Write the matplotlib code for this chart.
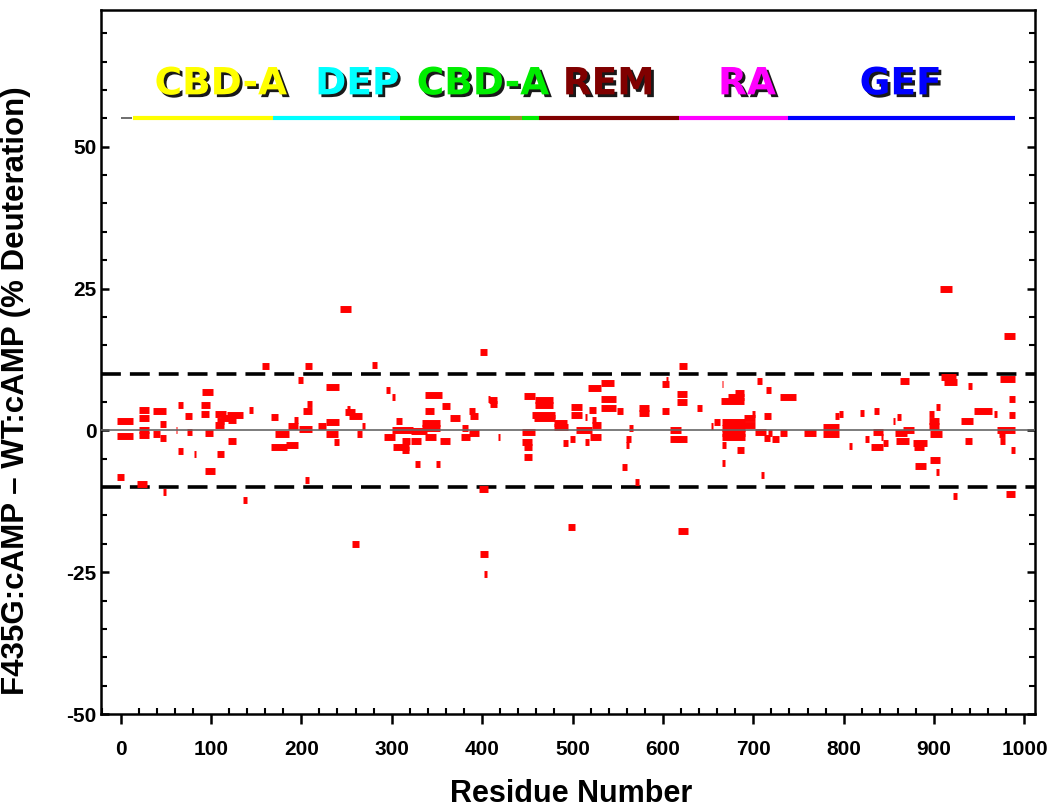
import matplotlib
matplotlib.use('Agg')
import matplotlib.pyplot as plt
import matplotlib.patheffects as pe
from matplotlib.ticker import MultipleLocator

# peptide start / end residue and deuteration difference (%)
pep_start = [-4, -4, -4, 20, 20, 20, 20, 18, 36, 44, 36, 44, 47, 61, 64, 64, 71, 74, 81, 90,
             89, 89, 93, 93, 104, 104, 107, 111, 118, 119, 107, 119, 142, 136, 157, 166, 166, 171, 185, 192,
             196, 183, 243, 256,
             204, 197, 227, 206, 202, 197, 204, 218, 227, 227, 236, 248, 253, 251, 262, 267, 278, 294, 300, 305,
             291, 300, 301, 311, 311, 321, 326, 321, 333, 333, 337, 337, 337, 349, 353, 356, 365, 378, 377, 385,
             385, 387, 398, 396, 407, 398, 402,
             408, 409, 418, 446, 458, 458, 455, 457, 479, 480, 444, 444, 446, 446, 489, 497, 498, 498, 504, 514,
             514, 518, 521, 521, 519, 517, 531, 531, 531, 549, 562, 562, 559, 559, 555, 569, 573, 573, 599, 599,
             603, 608, 608, 495, 617,
             618, 616, 616, 614, 638, 653, 656, 665, 664, 672, 680, 665, 665, 665, 665, 690, 690, 698, 665, 665,
             682, 704, 714, 712, 702, 712, 716, 721, 708, 729, 729, 756, 777, 777, 790, 795, 806, 818, 824,
             833, 832, 830, 843, 841, 854, 859, 862, 857, 858, 866, 877, 878, 879, 894, 894, 896, 894, 902, 896,
             902, 908, 911, 921, 930, 934, 937, 944, 966, 970, 972, 973, 973, 983, 983, 985, 979, 907, 977]
pep_end = [14, 14, 4, 31, 31, 31, 31, 29, 50, 50, 44, 50, 50, 63, 69, 69, 79, 79, 84, 102,
           99, 98, 102, 104, 117, 114, 114, 122, 135, 128, 115, 128, 146, 140, 164, 174, 184, 186, 196, 196,
           199, 196, 255, 264,
           212, 202, 242, 212, 212, 212, 209, 227, 242, 241, 242, 259, 267, 254, 267, 270, 284, 298, 304, 311,
           304, 323, 319, 320, 319, 332, 331, 339, 353, 353, 356, 347, 349, 353, 365, 365, 375, 384, 387, 396,
           392, 395, 405, 407, 409, 406, 405,
           416, 416, 420, 458, 478, 478, 481, 481, 494, 495, 458, 455, 455, 455, 495, 503, 511, 511, 521, 518,
           516, 526, 526, 531, 531, 531, 546, 548, 548, 556, 563, 567, 565, 562, 560, 573, 585, 585, 607, 607,
           606, 620, 620, 503, 628,
           627, 627, 627, 627, 643, 655, 663, 667, 690, 690, 690, 691, 691, 691, 691, 702, 702, 702, 670, 669,
           690, 710, 720, 720, 714, 719, 721, 728, 712, 747, 737, 769, 795, 795, 795, 799, 809, 822, 828,
           839, 844, 843, 849, 844, 857, 863, 872, 870, 872, 878, 892, 889, 891, 905, 905, 909, 900, 906, 906,
           905, 924, 925, 925, 943, 942, 942, 964, 970, 990, 978, 990, 978, 990, 990, 990, 990, 920, 990]
pep_diff = [1.6, -1.0, -8.2, 3.6, 2.1, 0.1, -0.9, -9.5, 3.4, 1.1, -0.6, -1.3, -10.9, 0.0, 4.4, -3.7, 2.6, -0.3, -4.2, 6.7,
            4.5, 2.9, -0.4, -7.1, 2.9, 0.9, 1.6, 2.2, 2.8, 1.9, -4.2, -1.8, 3.6, -12.2, 11.4, 2.4, -2.9, -0.6, 0.7, 1.9,
            8.9, -2.5, 21.4, -20.1,
            11.3, 8.9, 7.6, 4.7, 3.5, 0.2, -8.8, 0.7, 1.5, -0.7, -2.1, 3.2, 2.5, 3.8, -0.7, 0.8, 11.6, 7.1, 5.9, 1.6,
            -1.1, 0.1, -2.9, -1.8, -3.4, -1.8, -5.9, -0.1, 1.3, 0.5, 6.2, 3.4, -1.2, -6.0, -1.9, 4.3, 2.2, 0.5, -1.1, -0.5,
            3.5, 2.6, 13.9, -10.4, 5.6, -21.8, -25.4,
            5.4, 4.6, -1.2, 6.0, 5.4, 4.5, 2.8, 2.1, 1.3, 0.6, -0.3, -2.1, -2.9, -4.7, -2.2, -1.5, 4.1, 2.8, 0.1, -2.1,
            2.4, 3.6, 1.8, 0.9, -1.1, 7.4, 8.4, 5.6, 4.0, 3.5, 1.9, 0.5, -1.6, -2.5, -6.4, -9.1, 4.0, 3.0, 3.5, 8.1,
            8.8, 0.1, -1.5, -17.0, -17.8,
            11.4, 6.4, 5.0, -1.6, 3.9, 0.7, 1.5, 8.1, 5.1, 5.9, 6.6, 1.5, 0.5, -0.5, -1.2, 2.1, 0.9, 2.9, -2.5, -5.7,
            -3.5, 8.7, 7.1, 2.6, -0.3, -1.3, -0.5, -1.5, -7.8, 5.8, -0.4, -0.5, 0.6, -0.6, 2.6, 2.9, -2.8, 3.1, -1.6,
            3.4, -0.3, -2.9, -2.2, -1.2, 1.6, 2.4, 8.7, -0.5, -1.8, 0.1, -2.2, -2.9, -6.2, 1.6, 0.7, -0.7, 2.9, 4.1, -5.2,
            -7.4, 9.4, 8.5, -11.6, 1.6, -1.8, 7.8, 3.4, 2.9, 0.1, -0.6, 9.1, -1.9, 5.5, 2.8, -3.4, -11.3, 24.9, 16.7]

# domain map drawn above the data
dom_start = [0, 14, 169, 309, 431, 444, 463, 618, 738]
dom_end = [13, 169, 309, 431, 444, 463, 618, 738, 990]
dom_color = ['#555555', '#ffff00', '#00ffff', '#00ee00', '#a08a30', '#00ee00', '#800000', '#ff00ff', '#0000ff']
dom_names = ['CBD-A', 'DEP', 'CBD-A', 'REM', 'RA', 'GEF']
dom_center = [111, 262, 401, 540, 693, 863]
dom_name_color = ['#ffff00', '#00ffff', '#00ee00', '#800000', '#ff00ff', '#0000ff']

plt.rcParams['font.family'] = ['Liberation Sans', 'DejaVu Sans']
plt.rcParams['font.weight'] = 'bold'
plt.rcParams['axes.unicode_minus'] = False

fig = plt.figure(figsize=(10.5, 8.1), dpi=100)
ax = fig.add_axes([0.0962, 0.1185, 0.8895, 0.8691])

ax.axhline(10, color='k', lw=2.6, ls=(0, (5.5, 2.5)), zorder=2)
ax.axhline(-10, color='k', lw=2.6, ls=(0, (5.5, 2.5)), zorder=2)
ax.hlines(pep_diff, pep_start, pep_end, colors='#ff0000', lw=5, capstyle='butt', zorder=3)
ax.axhline(0, color='#666666', lw=1.2, zorder=4)

for s, e, c in zip(dom_start, dom_end, dom_color):
    lw = 1.2 if c == '#555555' else 3.0
    ax.plot([s, e], [55, 55], color=c, lw=lw, solid_capstyle='butt', zorder=3)

shadow = [pe.withSimplePatchShadow(offset=(2, -2), shadow_rgbFace='black', alpha=0.9)]
for name, x, c in zip(dom_names, dom_center, dom_name_color):
    ax.text(x, 61, name, color=c, fontsize=27, fontweight='bold', family='DejaVu Sans',
            ha='center', va='center', path_effects=shadow, zorder=5)

ax.set_xlim(-21.6, 1011.6)
ax.set_ylim(-50, 74.1)
ax.xaxis.set_major_locator(MultipleLocator(100))
ax.xaxis.set_minor_locator(MultipleLocator(20))
ax.yaxis.set_minor_locator(MultipleLocator(5))
ax.set_yticks([-50, -25, 0, 25, 50])

ax.tick_params(axis='x', which='major', direction='out', length=7, width=1.8, labelsize=15, pad=12)
ax.tick_params(axis='x', which='minor', direction='in', length=4, width=1.5)
ax.tick_params(axis='y', which='major', direction='in', length=6, width=1.8, labelsize=15, pad=3,
               right=True)
ax.tick_params(axis='y', which='minor', direction='in', length=4, width=1.5, right=True)

for sp in ax.spines.values():
    sp.set_linewidth(1.8)

ax.set_xlabel('Residue Number', fontsize=22, fontweight='bold')
ax.set_ylabel('F435G:cAMP \u2013 WT:cAMP (% Deuteration)', fontsize=22.5, fontweight='bold')
ax.xaxis.set_label_coords(0.503, -0.093)
ax.yaxis.set_label_coords(-0.075, 0.46)

plt.savefig('out.png', dpi=100)
plt.close()
